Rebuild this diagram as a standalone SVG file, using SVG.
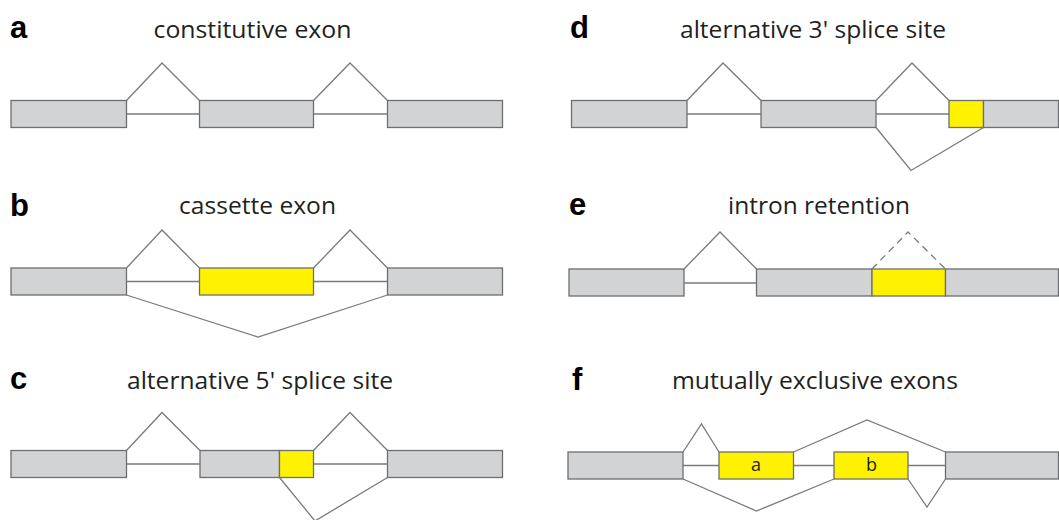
<svg xmlns="http://www.w3.org/2000/svg" width="1059" height="520" viewBox="0 0 1059 520">
<style>
.bg{fill:#ffffff}
.ex{fill:#d1d3d4;stroke:#6d6e71;stroke-width:1.3}
.alt{fill:#fff200;stroke:#6d6e71;stroke-width:1.3}
.ln{fill:none;stroke:#7a7a7a;stroke-width:1.3;stroke-linejoin:miter}
.dash{fill:none;stroke:#7a7a7a;stroke-width:1.3;stroke-dasharray:7 5}
.lab{font-family:"Liberation Sans",Arial,sans-serif;font-weight:bold;font-size:31px;fill:#000}
.ttl{font-family:"Open Sans","Noto Sans",sans-serif;font-size:24px;fill:#231f20;text-anchor:middle}
.sm{font-family:"Open Sans","Noto Sans",sans-serif;font-size:18px;fill:#231f20;text-anchor:middle}
</style>
<rect class="bg" x="0" y="0" width="1059" height="520"/>

<g id="panel-a">
  <text class="lab" x="10" y="38">a</text>
  <text class="ttl" x="252.5" y="38" textLength="198" lengthAdjust="spacingAndGlyphs">constitutive exon</text>
</g>
<g id="a-exon1"><rect class="ex" x="11" y="100.5" width="115.5" height="27"/></g>
<g id="a-exon2"><rect class="ex" x="199.5" y="100.5" width="114" height="27"/></g>
<g id="a-exon3"><rect class="ex" x="387.5" y="100.5" width="115" height="27"/></g>

<g id="panel-b">
  <text class="lab" x="10" y="215.5">b</text>
  <text class="ttl" x="257.5" y="214" textLength="157" lengthAdjust="spacingAndGlyphs">cassette exon</text>
</g>
<g id="b-exon1"><rect class="ex" x="11" y="268" width="115.5" height="27"/></g>
<g id="b-exon2"><rect class="alt" x="199.5" y="268" width="114" height="27"/></g>
<g id="b-exon3"><rect class="ex" x="387.5" y="268" width="115" height="27"/></g>

<g id="panel-c">
  <text class="lab" x="10" y="389">c</text>
  <text class="ttl" x="260" y="389" textLength="266" lengthAdjust="spacingAndGlyphs">alternative 5' splice site</text>
</g>
<g id="c-exon1"><rect class="ex" x="11" y="450.5" width="115.5" height="27"/></g>
<g id="c-exon2"><rect class="ex" x="200" y="450.5" width="79.5" height="27"/><rect class="alt" x="279.5" y="450.5" width="34" height="27"/></g>
<g id="c-exon3"><rect class="ex" x="387.5" y="450.5" width="115" height="27"/></g>

<g id="panel-d">
  <text class="lab" x="570" y="37.5">d</text>
  <text class="ttl" x="813" y="38" textLength="266" lengthAdjust="spacingAndGlyphs">alternative 3' splice site</text>
</g>
<g id="d-exon1"><rect class="ex" x="571.5" y="100.5" width="115.5" height="27"/></g>
<g id="d-exon2"><rect class="ex" x="761" y="100.5" width="115" height="27"/></g>
<g id="d-exon3"><rect class="alt" x="949" y="100.5" width="34.5" height="27"/><rect class="ex" x="983.5" y="100.5" width="75" height="27"/></g>

<g id="panel-e">
  <text class="lab" x="569" y="215">e</text>
  <text class="ttl" x="819" y="214" textLength="182" lengthAdjust="spacingAndGlyphs">intron retention</text>
</g>
<g id="e-exon1"><rect class="ex" x="569" y="269" width="115" height="27"/></g>
<g id="e-exon2"><rect class="ex" x="756.5" y="269" width="115.5" height="27"/><rect class="alt" x="872" y="269" width="73.5" height="27"/><rect class="ex" x="945.5" y="269" width="113" height="27"/></g>

<g id="panel-f">
  <text class="lab" x="572" y="390">f</text>
  <text class="ttl" x="815" y="389" textLength="286" lengthAdjust="spacingAndGlyphs">mutually exclusive exons</text>
</g>
<g id="f-exon1"><rect class="ex" x="568" y="452" width="115" height="27"/></g>
<g id="f-exon-a"><rect class="alt" x="719" y="452" width="74.5" height="27"/><text class="sm" x="756" y="470.5">a</text></g>
<g id="f-exon-b"><rect class="alt" x="834" y="452" width="74" height="27"/><text class="sm" x="871.5" y="470.5">b</text></g>
<g id="f-exon3"><rect class="ex" x="945.5" y="452" width="113" height="27"/></g>

<g id="connectors">
  <line class="ln" x1="126.5" y1="114" x2="199.5" y2="114"/>
  <line class="ln" x1="313.5" y1="114" x2="387.5" y2="114"/>
  <polyline class="ln" points="126.5,100.5 162,63 199.5,100.5"/>
  <polyline class="ln" points="313.5,100.5 350,63 387.5,100.5"/>
  <line class="ln" x1="126.5" y1="281.5" x2="199.5" y2="281.5"/>
  <line class="ln" x1="313.5" y1="281.5" x2="387.5" y2="281.5"/>
  <polyline class="ln" points="126.5,268 162,230 199.5,268"/>
  <polyline class="ln" points="313.5,268 350,230 387.5,268"/>
  <polyline class="ln" points="126.5,295 258,337 387.5,295"/>
  <line class="ln" x1="126.5" y1="464" x2="200" y2="464"/>
  <line class="ln" x1="313.5" y1="464" x2="387.5" y2="464"/>
  <polyline class="ln" points="126.5,450.5 162,412.5 200,450.5"/>
  <polyline class="ln" points="313.5,450.5 350,412.5 387.5,450.5"/>
  <polyline class="ln" points="279.5,477.5 315,521 387.5,477.5"/>
  <line class="ln" x1="687" y1="114" x2="761" y2="114"/>
  <line class="ln" x1="876" y1="114" x2="949" y2="114"/>
  <polyline class="ln" points="687,100.5 723,63 761,100.5"/>
  <polyline class="ln" points="876,100.5 912,63 949,100.5"/>
  <polyline class="ln" points="876,127.5 911,170.5 983.5,127.5"/>
  <line class="ln" x1="684" y1="283" x2="756.5" y2="283"/>
  <polyline class="ln" points="684,269 720,232 756.5,269"/>
  <polyline class="dash" points="872,269 908,232 945.5,269"/>
  <line class="ln" x1="683" y1="465.5" x2="719" y2="465.5"/>
  <line class="ln" x1="793.5" y1="465.5" x2="834" y2="465.5"/>
  <line class="ln" x1="908" y1="465.5" x2="945.5" y2="465.5"/>
  <polyline class="ln" points="683,452 701.5,424 719,452"/>
  <polyline class="ln" points="793.5,452 867,420 945.5,452"/>
  <polyline class="ln" points="683,479 756.5,511 834,479"/>
  <polyline class="ln" points="908,479 927,507 945.5,479"/>
</g>
</svg>
